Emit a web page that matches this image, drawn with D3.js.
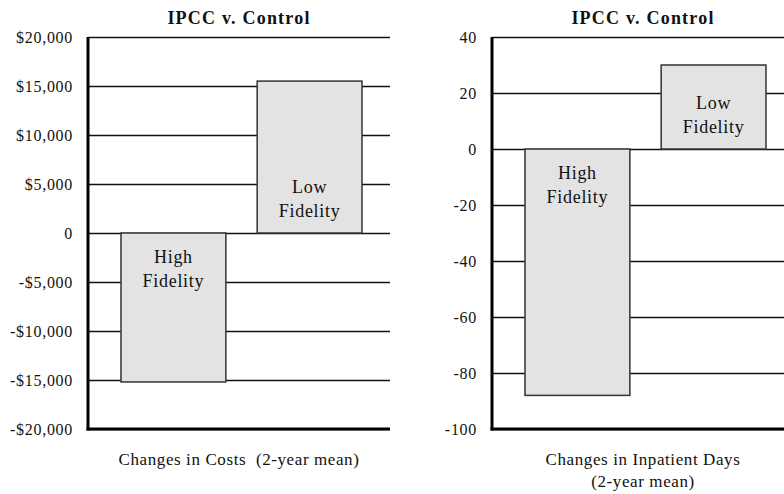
<!DOCTYPE html>
<html><head><meta charset="utf-8">
<script src="https://cdn.jsdelivr.net/npm/d3@7"></script>
<style>
html,body{margin:0;padding:0;background:#fff;}
text{font-family:"Liberation Serif","Times New Roman",serif;fill:#111;white-space:pre;}
</style></head>
<body>
<svg id="chart" width="784" height="494"></svg>
<script>
const categories = ["High Fidelity", "Low Fidelity"];
const barLabels = [["High", "Fidelity"], ["Low", "Fidelity"]];
const costValues = [-15200, 15500];
const costTicks = [20000, 15000, 10000, 5000, 0, -5000, -10000, -15000, -20000];
const costTickLabels = ["$20,000", "$15,000", "$10,000", "$5,000", "0", "-$5,000", "-$10,000", "-$15,000", "-$20,000"];
const dayValues = [-88, 30];
const dayTicks = [40, 20, 0, -20, -40, -60, -80, -100];
const dayTickLabels = ["40", "20", "0", "-20", "-40", "-60", "-80", "-100"];
const titles = ["IPCC v. Control", "IPCC v. Control"];
const xLabels = [["Changes in Costs  (2-year mean)"], ["Changes in Inpatient Days", "(2-year mean)"]];

const svg = d3.select("#chart");

function panel(x0, values, ticks, tickLabels, domain, title, xlab) {
  const W = 302, top = 37, bottom = 429;
  const g = svg.append("g");
  const y = d3.scaleLinear().domain(domain).range([bottom, top]);
  const x = d3.scaleBand().domain(categories).range([x0 + 33, x0 + 274]).paddingInner(0.23).paddingOuter(0);

  // gridlines
  const axis = d3.axisLeft(y).tickValues(ticks).tickSize(-W).tickFormat((d, i) => tickLabels[i]).tickPadding(15);
  const ax = g.append("g").attr("transform", `translate(${x0},0)`).call(axis);
  ax.select(".domain").remove();
  ax.selectAll(".tick line").attr("stroke", "#111").attr("stroke-width", 1.5);
  ax.selectAll(".tick text").attr("font-size", 16).attr("letter-spacing", "0.7px").attr("fill", "#111")
    .attr("font-family", "Liberation Serif");

  // bars
  g.selectAll("rect.bar").data(values).join("rect")
    .attr("class", "bar")
    .attr("x", (d, i) => x(categories[i]))
    .attr("width", x.bandwidth())
    .attr("y", d => y(Math.max(0, d)))
    .attr("height", d => Math.abs(y(d) - y(0)))
    .attr("fill", "#e3e3e3").attr("stroke", "#333").attr("stroke-width", 1.5);

  // bar labels
  values.forEach((v, i) => {
    const cx = x(categories[i]) + x.bandwidth() / 2;
    const lines = barLabels[i];
    lines.forEach((t, j) => {
      const yy = v < 0 ? y(0) + 24 + j * 24 : y(0) - 22 - (lines.length - 1 - j) * 24;
      g.append("text").attr("x", cx).attr("y", yy).attr("dy", "0.35em")
        .attr("text-anchor", "middle").attr("font-size", 18).attr("letter-spacing", "0.7px").text(t);
    });
  });

  // axes lines
  g.append("line").attr("x1", x0).attr("x2", x0).attr("y1", top).attr("y2", bottom + 1.5)
    .attr("stroke", "#000").attr("stroke-width", 3);
  g.append("line").attr("x1", x0 - 1.5).attr("x2", x0 + W).attr("y1", bottom).attr("y2", bottom)
    .attr("stroke", "#000").attr("stroke-width", 3);

  // title
  g.append("text").attr("x", x0 + W / 2).attr("y", 24).attr("text-anchor", "middle")
    .attr("font-size", 18).attr("font-weight", "bold").attr("letter-spacing", "1.2px").text(title);

  // x label
  xlab.forEach((t, j) => {
    g.append("text").attr("x", x0 + W / 2).attr("y", 465 + j * 22).attr("text-anchor", "middle")
      .attr("font-size", 17).attr("letter-spacing", "0.6px").text(t);
  });
}

panel(88, costValues, costTicks, costTickLabels, [-20000, 20000], titles[0], xLabels[0]);
panel(492, dayValues, dayTicks, dayTickLabels, [-100, 40], titles[1], xLabels[1]);
</script>
</body></html>
